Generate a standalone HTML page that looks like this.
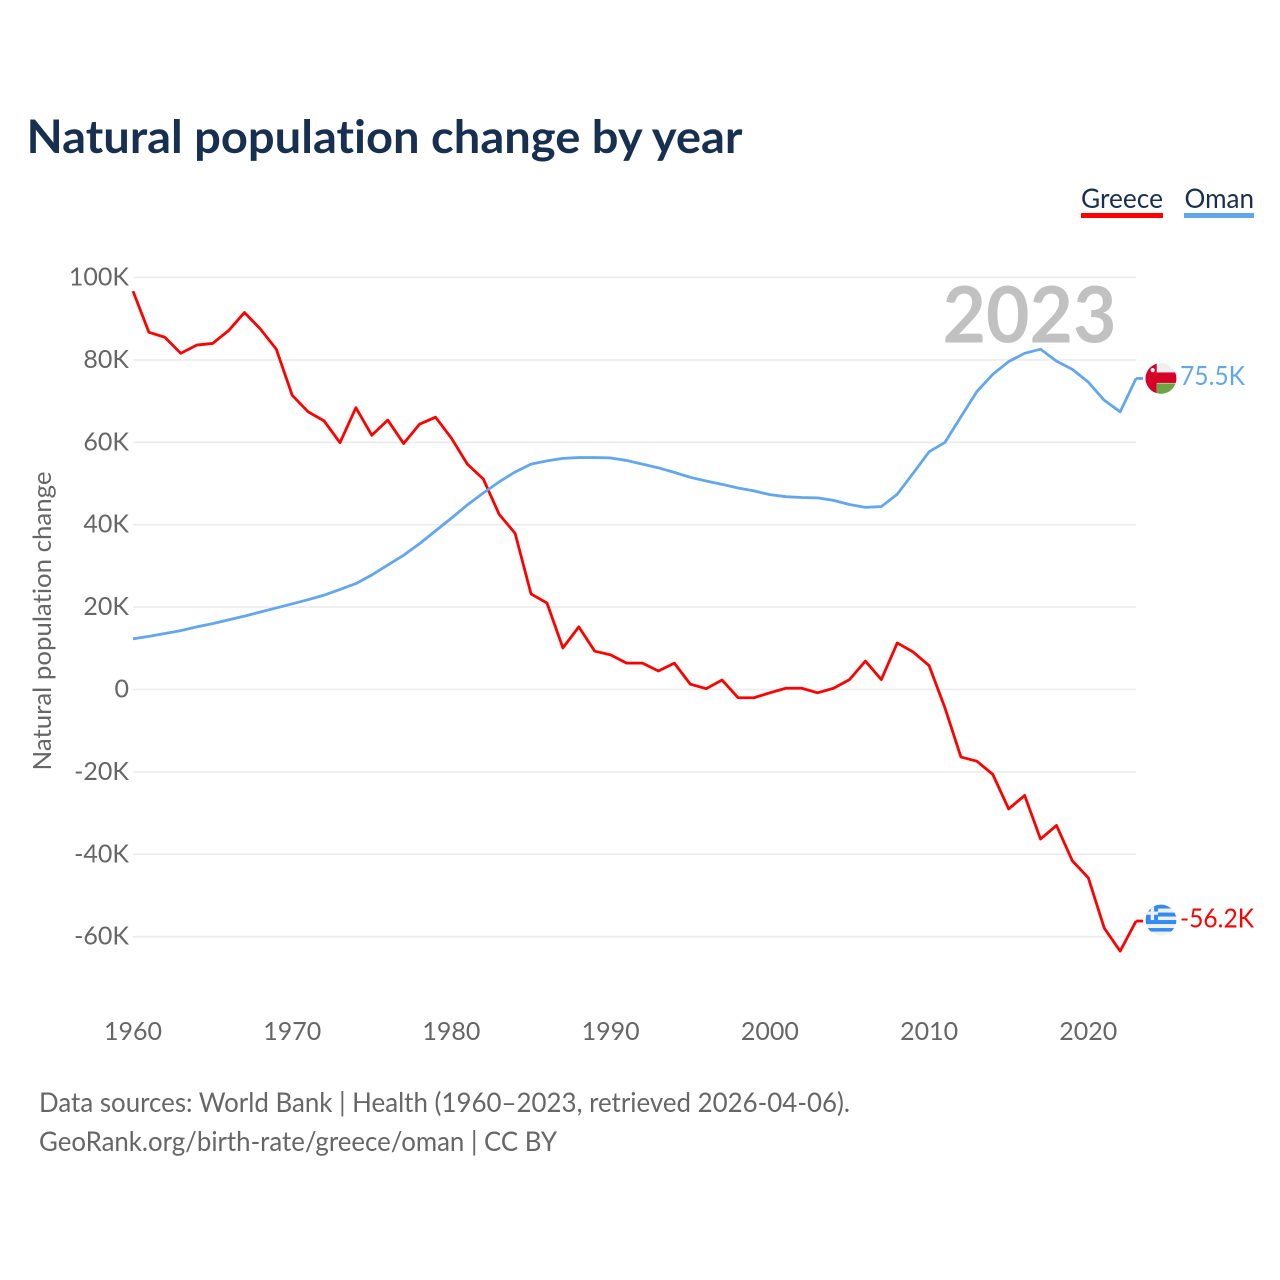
<!DOCTYPE html>
<html lang="en">
<head>
<meta charset="utf-8">
<title>Natural population change by year</title>
<style>
html,body{margin:0;padding:0;background:#fff;width:1280px;height:1280px;overflow:hidden}
svg{display:block;font-family:"Lato","Carlito","Liberation Sans",sans-serif;font-variant-ligatures:none}
</style>
</head>
<body>
<svg id="chart" xmlns="http://www.w3.org/2000/svg" width="1280" height="1280" viewBox="0 0 1280 1280">
  <defs>
    <clipPath id="clip-flag"><circle cx="0" cy="0" r="15.4"></circle></clipPath>
  </defs>
  <text x="26.5" y="153" font-size="46" font-weight="700" fill="#18304f" textLength="716" lengthAdjust="spacingAndGlyphs">Natural population change by year</text>
  <g>
    <g>
      <text x="1081" y="208" font-size="27" fill="#18304f" textLength="82" lengthAdjust="spacingAndGlyphs">Greece</text>
      <rect x="1081" y="213" width="82" height="5" fill="#ff0000"></rect>
    </g>
    <g>
      <text x="1184.5" y="208" font-size="27" fill="#18304f" textLength="69.5" lengthAdjust="spacingAndGlyphs">Oman</text>
      <rect x="1184" y="213" width="70" height="5" fill="#62a6ec"></rect>
    </g>
  </g>
  <g id="grid"></g>
  <g id="y-ticks"></g>
  <g id="x-ticks"></g>
  <text transform="translate(51 621) rotate(-90)" text-anchor="middle" font-size="25" fill="#666666" textLength="299" lengthAdjust="spacingAndGlyphs">Natural population change</text>
  <text x="942.5" y="342.5" font-size="78" font-weight="700" fill="#c1c1c1" textLength="174" lengthAdjust="spacingAndGlyphs">2023</text>
  <g id="series"></g>
  <g id="end-labels"></g>
  <text x="39" y="1112" font-size="27" fill="#666666" textLength="811" lengthAdjust="spacingAndGlyphs">Data sources: World Bank | Health (1960–2023, retrieved 2026-04-06).</text>
  <text x="39" y="1151" font-size="27" fill="#666666" textLength="518" lengthAdjust="spacingAndGlyphs">GeoRank.org/birth-rate/greece/oman | CC BY</text>
</svg>
<script>
var startYear = 1960;
var greeceValues = [96.7,86.7,85.5,81.6,83.6,84,87.1,91.5,87.5,82.6,71.4,67.4,65.2,59.9,68.4,61.7,65.4,59.7,64.4,66.1,61,54.7,51.1,42.5,37.9,23.2,21,10.1,15.2,9.3,8.4,6.4,6.4,4.5,6.4,1.3,0.2,2.3,-2,-2,-0.8,0.3,0.3,-0.8,0.3,2.4,6.9,2.4,11.3,9.1,5.8,-4.5,-16.4,-17.4,-20.6,-29,-25.7,-36.3,-33,-41.6,-45.7,-57.9,-63.5,-56.2];
var omanValues = [12.3,12.9,13.6,14.3,15.2,16,16.9,17.8,18.8,19.8,20.8,21.8,22.9,24.3,25.7,27.8,30.2,32.6,35.4,38.5,41.6,44.8,47.7,50.4,52.8,54.7,55.5,56.1,56.3,56.3,56.2,55.6,54.7,53.8,52.7,51.5,50.6,49.8,48.9,48.2,47.3,46.8,46.6,46.5,45.9,44.9,44.2,44.4,47.4,52.5,57.7,60,66.2,72.3,76.5,79.6,81.6,82.6,79.7,77.7,74.6,70.2,67.4,75.5];
var yTickValues = [100,80,60,40,20,0,-20,-40,-60];
var xTickValues = [1960,1970,1980,1990,2000,2010,2020];

var NS = 'http://www.w3.org/2000/svg';
function xScale(year){ return 133 + (year - 1960) * 15.922; }
function yScale(k){ return 689.5 - k * 4.12; }
function make(tag, parent, attrs){
  var el = document.createElementNS(NS, tag);
  for (var key in attrs) el.setAttribute(key, attrs[key]);
  parent.appendChild(el);
  return el;
}
function fmtK(k){ return k === 0 ? '0' : k + 'K'; }

var gridG = document.getElementById('grid');
var yG = document.getElementById('y-ticks');
yTickValues.forEach(function(v){
  var line = make('line', gridG, {x1:133, x2:1136, y1:yScale(v), y2:yScale(v), stroke:'#ebebeb', 'stroke-width':1.6});
  
  
  var t = make('text', yG, {x:129, y:yScale(v)+8, 'text-anchor':'end', 'font-size':25, fill:'#666666'});
  
  
  t.textContent = fmtK(v);
});

var xG = document.getElementById('x-ticks');
xTickValues.forEach(function(v){
  var t = make('text', xG, {x:xScale(v), y:1040, 'text-anchor':'middle', 'font-size':25, fill:'#666666'});
  
  
  t.textContent = v;
});

function pathFor(values){
  return values.map(function(v, i){
    return (i ? 'L' : 'M') + xScale(startYear + i).toFixed(2) + ' ' + yScale(v).toFixed(2);
  }).join(' ');
}

var seriesG = document.getElementById('series');
var greeceLine = make('path', seriesG, {d:pathFor(greeceValues), fill:'none', stroke:'#ff0000', 'stroke-width':2.8, 'stroke-linejoin':'round'});


var omanLine = make('path', seriesG, {d:pathFor(omanValues), fill:'none', stroke:'#62a6ec', 'stroke-width':2.8, 'stroke-linejoin':'round'});



var endG = document.getElementById('end-labels');
var lastX = xScale(startYear + omanValues.length - 1);

function endValueText(k){ return k.toFixed(1) + 'K'; }

var omanLast = omanValues[omanValues.length - 1];
var omanTail = make('line', endG, {x1:lastX, x2:lastX+7, y1:yScale(omanLast), y2:yScale(omanLast), stroke:'#62a6ec', 'stroke-width':2.8});


var omanFlag = make('g', endG, {transform:'translate(1161 ' + yScale(omanLast) + ')', 'clip-path':'url(#clip-flag)'});


make('rect', omanFlag, {x:-16, y:-16, width:32, height:32, fill:'#f0f0f0'});
make('rect', omanFlag, {x:-16, y:-6, width:32, height:10.5, fill:'#d80027'});
make('rect', omanFlag, {x:-16, y:-16, width:11.7, height:32, fill:'#d80027'});
make('rect', omanFlag, {x:-4.3, y:5, width:20.3, height:11, fill:'#6da544'});
make('circle', omanFlag, {cx:-8.3, cy:-8.3, r:2.1, fill:'#f0f0f0'});
var omanText = make('text', endG, {x:1180, y:yScale(omanLast)+6.5, 'font-size':26, fill:'#62a6ec', textLength:65, lengthAdjust:'spacingAndGlyphs'});


omanText.textContent = endValueText(omanLast);

var greeceLast = greeceValues[greeceValues.length - 1];
var greeceTail = make('line', endG, {x1:lastX, x2:lastX+7, y1:yScale(greeceLast), y2:yScale(greeceLast), stroke:'#ff0000', 'stroke-width':2.8});


var greeceFlag = make('g', endG, {transform:'translate(1161 ' + (yScale(greeceLast)-1) + ')', 'clip-path':'url(#clip-flag)'});


make('rect', greeceFlag, {x:-16, y:-16, width:32, height:32, fill:'#f0f0f0'});
[[-16,4.5],[-7.5,4],[0,4],[8,3.5]].forEach(function(s){
  make('rect', greeceFlag, {x:-16, y:s[0], width:32, height:s[1], fill:'#338af3'});
});
make('rect', greeceFlag, {x:-16, y:-16, width:13, height:16, fill:'#338af3'});
make('rect', greeceFlag, {x:-10.3, y:-16, width:3.4, height:16, fill:'#f0f0f0'});
make('rect', greeceFlag, {x:-16, y:-8.5, width:13, height:3.2, fill:'#f0f0f0'});
var greeceText = make('text', endG, {x:1180, y:yScale(greeceLast)+6.5, 'font-size':26, fill:'#ff0000', textLength:74, lengthAdjust:'spacingAndGlyphs'});


greeceText.textContent = endValueText(greeceLast);
</script>
</body>
</html>
